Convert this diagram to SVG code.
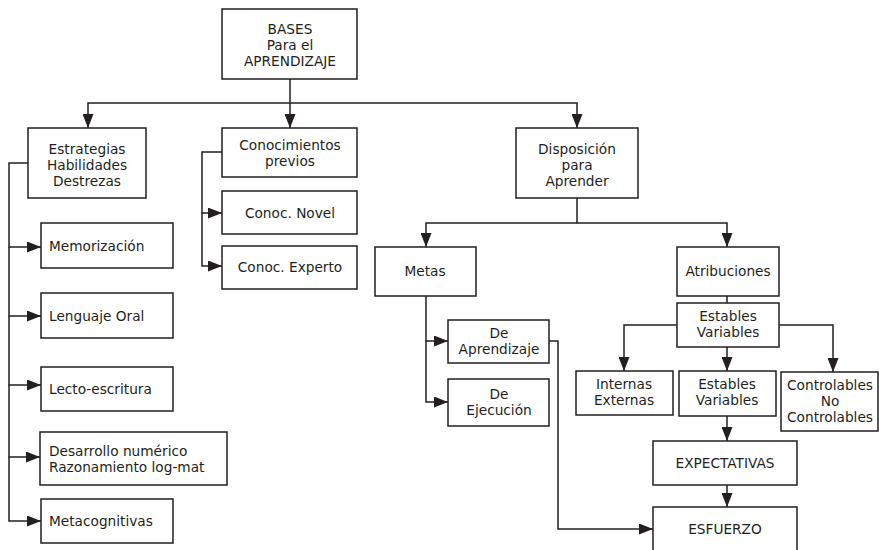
<svg xmlns="http://www.w3.org/2000/svg" width="879" height="550" viewBox="0 0 879 550">
<defs>
<style>
rect{fill:#fff;stroke:#231f20;stroke-width:1.5}
text{font-family:"DejaVu Sans","Open Sans",sans-serif;font-size:13.7px;fill:#231f20}
.c{text-anchor:middle}
.ln{fill:none;stroke:#231f20;stroke-width:1.5}
</style>
<marker id="ar" markerUnits="userSpaceOnUse" markerWidth="14" markerHeight="11" refX="14" refY="5.5" orient="auto">
<path d="M0,0 L14,5.5 L0,11 z" fill="#231f20"/>
</marker>
</defs>
<g id="connectors">
<path class="ln" d="M290,79 V128" marker-end="url(#ar)"/>
<path class="ln" d="M290,103 H88 V128" marker-end="url(#ar)"/>
<path class="ln" d="M290,103 H577 V128" marker-end="url(#ar)"/>
<path class="ln" d="M28,163 H9 V247 H41" marker-end="url(#ar)"/>
<path class="ln" d="M9,247 V316 H41" marker-end="url(#ar)"/>
<path class="ln" d="M9,316 V385 H41" marker-end="url(#ar)"/>
<path class="ln" d="M9,385 V457 H40" marker-end="url(#ar)"/>
<path class="ln" d="M9,457 V521 H41" marker-end="url(#ar)"/>
<path class="ln" d="M222,152 H202 V213 H222" marker-end="url(#ar)"/>
<path class="ln" d="M202,213 V266 H222" marker-end="url(#ar)"/>
<path class="ln" d="M577,198 V223 H426 V247" marker-end="url(#ar)"/>
<path class="ln" d="M577,223 H727 V247" marker-end="url(#ar)"/>
<path class="ln" d="M426,296 V341 H448" marker-end="url(#ar)"/>
<path class="ln" d="M426,341 V402 H448" marker-end="url(#ar)"/>
<path class="ln" d="M549,341 H558 V529 H653" marker-end="url(#ar)"/>
<path class="ln" d="M727,296 V303"/>
<path class="ln" d="M677,325 H624 V371" marker-end="url(#ar)"/>
<path class="ln" d="M779,325 H833 V372" marker-end="url(#ar)"/>
<path class="ln" d="M727,347 V371" marker-end="url(#ar)"/>
<path class="ln" d="M727,416 V441" marker-end="url(#ar)"/>
<path class="ln" d="M727,485 V507" marker-end="url(#ar)"/>
</g>
<g id="bases"><rect x="222" y="9" width="135" height="70"/><text class="c" x="290" y="34">BASES</text><text class="c" x="290" y="50">Para el</text><text class="c" x="290" y="66">APRENDIZAJE</text></g>
<g id="estrategias"><rect x="28" y="128" width="118" height="70"/><text class="c" x="87" y="154">Estrategias</text><text class="c" x="87" y="170">Habilidades</text><text class="c" x="87" y="186">Destrezas</text></g>
<g id="conocimientos"><rect x="222" y="128" width="135" height="49"/><text class="c" x="290" y="150">Conocimientos</text><text class="c" x="290" y="166">previos</text></g>
<g id="novel"><rect x="222" y="191" width="135" height="43"/><text class="c" x="290" y="218">Conoc. Novel</text></g>
<g id="experto"><rect x="222" y="246" width="135" height="43"/><text class="c" x="290" y="272">Conoc. Experto</text></g>
<g id="memorizacion"><rect x="41" y="223" width="132" height="45"/><text x="49" y="251">Memorización</text></g>
<g id="lenguaje"><rect x="41" y="293" width="132" height="45"/><text x="49" y="321">Lenguaje Oral</text></g>
<g id="lecto"><rect x="41" y="367" width="132" height="44"/><text x="49" y="394">Lecto-escritura</text></g>
<g id="desarrollo"><rect x="40" y="432" width="187" height="53"/><text x="49" y="456">Desarrollo numérico</text><text x="49" y="472">Razonamiento log-mat</text></g>
<g id="metacognitivas"><rect x="41" y="499" width="132" height="44"/><text x="49" y="526">Metacognitivas</text></g>
<g id="disposicion"><rect x="516" y="128" width="122" height="70"/><text class="c" x="577" y="154">Disposición</text><text class="c" x="577" y="170">para</text><text class="c" x="577" y="186">Aprender</text></g>
<g id="metas"><rect x="375" y="247" width="101" height="49"/><text class="c" x="425" y="276">Metas</text></g>
<g id="atribuciones"><rect x="677" y="247" width="102" height="49"/><text class="c" x="728" y="276">Atribuciones</text></g>
<g id="deaprendizaje"><rect x="448" y="320" width="101" height="43"/><text class="c" x="499" y="338">De</text><text class="c" x="499" y="354">Aprendizaje</text></g>
<g id="deejecucion"><rect x="448" y="379" width="101" height="47"/><text class="c" x="499" y="399">De</text><text class="c" x="499" y="415">Ejecución</text></g>
<g id="estables1"><rect x="677" y="303" width="102" height="44"/><text class="c" x="728" y="321">Estables</text><text class="c" x="728" y="337">Variables</text></g>
<g id="internas"><rect x="576" y="371" width="97" height="44"/><text class="c" x="624" y="389">Internas</text><text class="c" x="624" y="405">Externas</text></g>
<g id="estables2"><rect x="679" y="371" width="97" height="45"/><text class="c" x="727" y="389">Estables</text><text class="c" x="727" y="405">Variables</text></g>
<g id="controlables"><rect x="781" y="372" width="97" height="59"/><text class="c" x="830" y="390">Controlables</text><text class="c" x="830" y="406">No</text><text class="c" x="830" y="422">Controlables</text></g>
<g id="expectativas"><rect x="653" y="441" width="144" height="44"/><text class="c" x="725" y="468">EXPECTATIVAS</text></g>
<g id="esfuerzo"><rect x="653" y="507" width="144" height="60"/><text class="c" x="725" y="534">ESFUERZO</text></g>
</svg>
